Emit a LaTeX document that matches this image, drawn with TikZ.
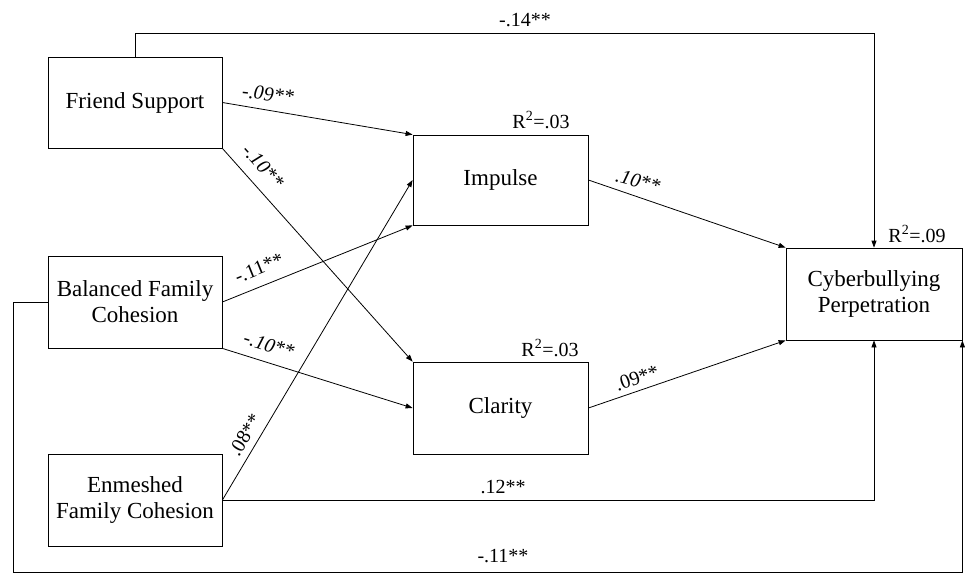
\documentclass[tikz,border=0pt]{standalone}
\usepackage{fontspec}
\setmainfont{Liberation Serif}
\usetikzlibrary{arrows.meta}

\tikzset{
  box/.style={draw, line width=0.8pt, rectangle, align=center, inner sep=0pt,
              font=\fontsize{23}{26}\selectfont},
  path/.style={draw, line width=0.8pt, -{Triangle[length=7pt,width=5pt]}},
  coef/.style={font=\fontsize{20}{22}\selectfont, inner sep=0pt},
  coefit/.style={coef, font=\fontsize{20}{22}\selectfont\itshape},
}

\begin{document}
\begin{tikzpicture}[x=1pt, y=-1pt]
  \useasboundingbox (0,0) rectangle (965,573);

  % predictors
  \node[box, minimum width=174pt, minimum height=91pt] (fs)  at (135,102.5) {Friend Support};
  \node[box, minimum width=174pt, minimum height=92pt] (bal) at (135,302) {Balanced Family\\Cohesion};
  \node[box, minimum width=174pt, minimum height=92pt] (enm) at (135,500) {Enmeshed\\Family Cohesion};

  % mediators
  \node[box, minimum width=175pt, minimum height=90pt] (imp) at (500.5,180) {Impulse};
  \node[box, minimum width=175pt, minimum height=92pt] (cla) at (500.5,408) {Clarity};

  % outcome
  \node[box, minimum width=176pt, minimum height=92pt] (cyb) at (874,294) {Cyberbullying\\Perpetration};

  % routing points of the outer paths
  \coordinate (topY) at (0,33);
  \coordinate (lowL) at (13,572);

  % paths to the mediators
  \draw[path] (fs.east) -- (imp.north west);
  \draw[path] (fs.south east) -- (cla.north west);
  \draw[path] (bal.east) -- (imp.south west);
  \draw[path] (bal.south east) -- (cla.west);
  \draw[path] (enm.east) -- (imp.west);

  % paths to the outcome
  \draw[path] (imp.east) -- (cyb.north west);
  \draw[path] (cla.east) -- (cyb.south west);
  \draw[path] (fs.north) -- (fs.north |- topY) -| (cyb.north);
  \draw[path] (enm.east) -| (cyb.south);
  \draw[path] (bal.west) -| (lowL) -| (cyb.south east);

  % coefficients
  \node[coef]   (c14) at (525,20)   {-.14**};
  \node[coefit, rotate=-6]  (c09a) at (268,94)  {-.09**};
  \node[coefit, rotate=-48] (c10a) at (263,166) {-.10**};
  \node[coef,   rotate=22]  (c11a) at (259,268) {-.11**};
  \node[coefit, rotate=-17] (c10b) at (269,345) {-.10**};
  \node[coef,   rotate=59]  (c08)  at (245,435) {.08**};
  \node[coefit, rotate=-15] (c10c) at (638,181) {.10**};
  \node[coef,   rotate=19]  (c09b) at (637,378) {.09**};
  \node[coef]   (c12)  at (503,487) {.12**};
  \node[coef]   (c11b) at (503,556) {-.11**};

  % explained variance
  \node[coef] (r1) at (541,120) {R\textsuperscript{2}=.03};
  \node[coef] (r2) at (550,348) {R\textsuperscript{2}=.03};
  \node[coef] (r3) at (917,234) {R\textsuperscript{2}=.09};
\end{tikzpicture}
\end{document}
